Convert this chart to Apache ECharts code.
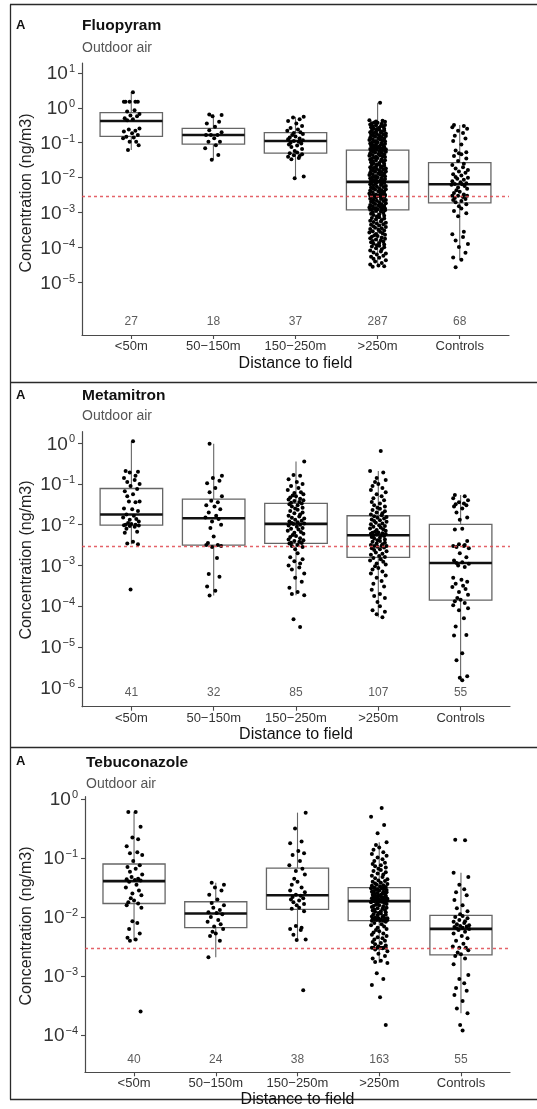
<!DOCTYPE html>
<html>
<head>
<meta charset="utf-8">
<script src="https://cdn.jsdelivr.net/npm/echarts@6/dist/echarts.min.js"></script>
<style>
  html, body { margin: 0; padding: 0; background: #fff; }
  #chart { width: 537px; height: 1109px; }
</style>
</head>
<body>
<div id="chart"></div>
<script>
// ---------------- data ----------------
// distance classes on the x axis
const categories = ['<50m', '50\u2212150m', '150\u2212250m', '>250m', 'Controls'];

// limit of detection (ng/m3), drawn as the dashed red reference line
const LOD = 0.003;

// y-axis tick exponents (labels read 10^n)
const fluopyramTicks = [-5, -4, -3, -2, -1, 0, 1];
const metamitronTicks = [-6, -5, -4, -3, -2, -1, 0];
const tebuconazoleTicks = [-4, -3, -2, -1, 0];

// sample counts per distance class
const fluopyramN = [27, 18, 37, 287, 68];
const metamitronN = [41, 32, 85, 107, 55];
const tebuconazoleN = [40, 24, 38, 163, 55];

// box statistics per class: [lower whisker, Q1, median, Q3, upper whisker], log10(ng/m3)
const fluopyramBoxes = [
  [-1.21, -0.82, -0.38, -0.14, 0.44],
  [-1.49, -1.04, -0.78, -0.59, -0.19],
  [-2.02, -1.30, -0.95, -0.71, -0.26],
  [-4.55, -2.92, -2.12, -1.21, 0.14],
  [-4.35, -2.72, -2.19, -1.57, -0.49]
];
const metamitronBoxes = [
  [-2.48, -2.01, -1.75, -1.11, 0.05],
  [-3.74, -2.50, -1.84, -1.37, -0.01],
  [-3.73, -2.46, -1.98, -1.475, -0.45],
  [-4.27, -2.80, -2.26, -1.78, -0.68],
  [-5.82, -3.85, -2.94, -1.99, -1.27]
];
const tebuconazoleBoxes = [
  [-2.40, -1.77, -1.39, -1.10, -0.22],
  [-2.68, -2.18, -1.94, -1.74, -1.42],
  [-2.39, -1.87, -1.63, -1.17, -0.23],
  [-2.78, -2.06, -1.73, -1.50, -0.73],
  [-3.63, -2.64, -2.20, -1.97, -1.25]
];

// individual measurements, log10(ng/m3)
const fluopyramLt50 = [0.44,0.17,0.17,0.17,0.17,0.17,-0.07,-0.11,-0.18,-0.22,-0.24,-0.30,-0.33,-0.36,-0.59,-0.62,-0.66,-0.68,-0.73,-0.78,-0.83,-0.85,-0.87,-0.97,-0.97,-1.07,-1.21];
const fluopyram50to150 = [-0.19,-0.21,-0.24,-0.40,-0.45,-0.54,-0.64,-0.70,-0.78,-0.78,-0.78,-0.87,-0.97,-0.97,-1.07,-1.16,-1.35,-1.49];
const fluopyram150to250 = [-0.26,-0.28,-0.33,-0.38,-0.45,-0.52,-0.58,-0.62,-0.66,-0.70,-0.72,-0.75,-0.78,-0.82,-0.85,-0.88,-0.90,-0.93,-0.95,-0.97,-1.00,-1.02,-1.05,-1.08,-1.12,-1.18,-1.24,-1.28,-1.30,-1.33,-1.36,-1.38,-1.40,-1.44,-1.47,-1.97,-2.02];
const fluopyramGt250 = [0.14,
  -0.36,-0.37,-0.39,-0.40,-0.42,-0.43,-0.44,-0.46,-0.48,-0.49,-0.50,-0.52,-0.53,-0.54,-0.56,-0.57,-0.59,-0.60,-0.61,-0.63,
  -0.64,-0.65,-0.67,-0.68,-0.70,-0.71,-0.72,-0.74,-0.75,-0.76,-0.78,-0.79,-0.80,-0.81,-0.83,-0.84,-0.86,-0.87,-0.88,-0.90,
  -0.91,-0.92,-0.94,-0.95,-0.96,-0.97,-0.99,-1.00,-1.01,-1.02,-1.03,-1.05,-1.06,-1.07,-1.08,-1.09,-1.10,-1.11,-1.12,-1.13,
  -1.14,-1.15,-1.16,-1.16,-1.17,-1.18,-1.18,-1.19,-1.19,-1.20,-1.21,
  -1.22,-1.24,-1.25,-1.26,-1.28,-1.29,-1.30,-1.32,-1.33,-1.35,-1.36,-1.37,-1.39,-1.40,-1.41,-1.43,-1.44,-1.45,-1.47,-1.48,
  -1.50,-1.51,-1.52,-1.54,-1.55,-1.56,-1.58,-1.59,-1.60,-1.62,-1.63,-1.64,-1.66,-1.67,-1.68,-1.70,-1.71,-1.72,-1.74,-1.75,
  -1.76,-1.78,-1.79,-1.80,-1.82,-1.83,-1.84,-1.86,-1.87,-1.88,-1.90,-1.91,-1.92,-1.94,-1.95,-1.96,-1.98,-1.99,-2.00,-2.01,
  -2.02,-2.04,-2.05,-2.06,-2.07,-2.08,-2.09,-2.10,-2.10,-2.11,-2.11,
  -2.12,
  -2.13,-2.15,-2.16,-2.18,-2.19,-2.21,-2.22,-2.24,-2.25,-2.27,-2.28,-2.30,-2.31,-2.33,-2.34,-2.36,-2.37,-2.39,-2.40,-2.42,
  -2.43,-2.45,-2.46,-2.48,-2.49,-2.50,
  -2.52,-2.52,-2.52,-2.52,-2.52,-2.52,-2.52,-2.52,-2.52,-2.52,-2.52,-2.52,-2.52,-2.52,-2.52,
  -2.54,-2.55,-2.57,-2.58,-2.60,-2.61,-2.63,-2.64,-2.66,-2.67,-2.69,-2.70,-2.72,-2.73,-2.75,-2.76,-2.78,-2.79,-2.81,-2.82,
  -2.84,-2.85,-2.86,-2.87,-2.88,-2.89,-2.90,-2.90,-2.91,-2.92,
  -2.93,-2.95,-2.97,-2.99,-3.01,-3.03,-3.05,-3.07,-3.09,-3.11,-3.13,-3.15,-3.17,-3.19,-3.21,-3.23,-3.25,-3.27,-3.29,-3.31,
  -3.33,-3.35,-3.37,-3.39,-3.41,-3.43,-3.45,-3.47,-3.49,-3.51,-3.53,-3.55,-3.57,-3.59,-3.61,-3.63,-3.65,-3.67,-3.69,-3.71,
  -3.73,-3.75,-3.77,-3.79,-3.81,-3.83,-3.85,-3.87,-3.89,-3.91,-3.93,-3.95,-3.97,-3.99,-4.02,-4.05,-4.08,-4.11,-4.14,-4.17,
  -4.20,-4.23,-4.26,-4.29,-4.32,-4.36,-4.40,-4.44,-4.48,-4.51,-4.53,-4.55];
const fluopyramControls = [-0.49,-0.52,-0.56,-0.60,-0.66,-0.72,-0.80,-0.88,-0.95,-1.05,-1.22,-1.27,-1.30,-1.33,-1.38,-1.45,-1.52,
  -1.60,-1.64,-1.70,-1.74,-1.78,-1.82,-1.86,-1.90,-1.94,-1.98,-2.00,-2.03,-2.06,-2.10,-2.13,-2.16,-2.18,
  -2.19,-2.20,
  -2.24,-2.28,-2.32,-2.36,-2.40,-2.44,-2.48,-2.52,-2.52,-2.52,-2.55,-2.58,-2.61,-2.64,-2.67,-2.70,
  -2.76,-2.82,-2.88,-2.95,-3.02,-3.10,-3.55,-3.62,-3.70,-3.80,-3.90,-3.98,-4.15,-4.28,-4.35,-4.56];

const metamitronLt50 = [0.05,-0.68,-0.70,-0.72,-0.80,-0.85,-0.90,-0.95,-1.00,-1.05,-1.12,-1.18,-1.25,-1.30,-1.43,-1.43,-1.45,-1.60,-1.62,-1.66,
  -1.75,-1.78,-1.82,-1.86,-1.88,-1.92,-1.96,-1.98,-2.00,-2.00,-2.01,-2.02,-2.03,-2.05,-2.10,-2.17,-2.20,-2.42,-2.46,-2.48,-3.59];
const metamitron50to150 = [-0.01,-0.80,-0.85,-0.92,-0.98,-1.10,-1.20,-1.30,-1.41,-1.45,-1.52,-1.55,-1.62,-1.70,-1.78,-1.82,
  -1.86,-1.92,-2.00,-2.08,-2.29,-2.45,-2.50,-2.50,-2.52,-2.55,-2.82,-3.21,-3.28,-3.52,-3.62,-3.74];
const metamitron150to250 = [-0.45,-0.78,-0.80,-0.88,-0.95,-1.00,-1.05,-1.10,-1.15,-1.20,-1.22,-1.25,-1.28,-1.30,-1.33,-1.36,-1.38,-1.40,-1.42,-1.44,-1.46,
  -1.48,-1.50,-1.52,-1.55,-1.58,-1.60,-1.63,-1.66,-1.70,-1.72,-1.75,-1.78,-1.80,-1.83,-1.85,-1.88,-1.90,-1.92,-1.94,-1.96,-1.97,
  -1.98,
  -2.00,-2.02,-2.05,-2.08,-2.10,-2.12,-2.15,-2.18,-2.20,-2.22,-2.25,-2.28,-2.30,-2.33,-2.36,-2.38,-2.40,-2.42,-2.44,-2.45,-2.46,
  -2.50,-2.52,-2.55,-2.60,-2.70,-2.80,-2.85,-2.90,-2.95,-3.00,-3.05,-3.10,-3.20,-3.30,-3.40,-3.55,-3.65,-3.70,-3.73,-4.32,-4.51];
const metamitronGt250 = [-0.19,-0.68,-0.72,-0.85,-0.90,-0.95,-1.00,-1.05,-1.10,-1.15,-1.20,-1.25,-1.30,-1.35,-1.40,-1.44,-1.48,-1.52,-1.55,-1.58,-1.61,-1.64,-1.67,-1.70,-1.72,-1.75,-1.77,
  -1.79,-1.81,-1.83,-1.85,-1.87,-1.89,-1.91,-1.93,-1.95,-1.97,-1.99,-2.01,-2.03,-2.05,-2.07,-2.09,-2.11,-2.13,-2.15,-2.17,-2.19,-2.20,-2.21,-2.22,-2.23,-2.24,-2.25,
  -2.26,
  -2.28,-2.30,-2.32,-2.34,-2.36,-2.38,-2.40,-2.42,-2.44,-2.46,-2.48,-2.50,-2.52,-2.52,-2.52,-2.54,-2.56,-2.58,-2.60,-2.62,-2.65,-2.68,-2.71,-2.74,-2.77,-2.79,
  -2.82,-2.85,-2.88,-2.91,-2.95,-2.98,-3.02,-3.06,-3.10,-3.15,-3.20,-3.25,-3.30,-3.38,-3.45,-3.52,-3.60,-3.70,-3.75,-3.80,-3.90,-4.00,-4.10,-4.14,-4.20,-4.27];
const metamitronControls = [-1.27,-1.30,-1.35,-1.40,-1.45,-1.48,-1.50,-1.52,-1.55,-1.60,-1.70,-1.82,-1.88,
  -2.10,-2.12,-2.40,-2.48,-2.50,-2.52,-2.52,-2.55,-2.58,-2.70,-2.80,-2.88,-2.92,
  -2.94,
  -2.96,-3.00,-3.04,-3.30,-3.35,-3.40,-3.45,-3.50,-3.53,-3.58,-3.65,-3.72,-3.80,-3.84,
  -3.88,-3.92,-3.98,-4.05,-4.10,-4.30,-4.50,-4.71,-4.72,-5.16,-5.33,-5.72,-5.76,-5.82];

const tebuconazoleLt50 = [-0.22,-0.22,-0.47,-0.65,-0.68,-0.80,-0.90,-0.92,-0.95,-1.05,
  -1.12,-1.15,-1.18,-1.23,-1.28,-1.32,-1.35,-1.36,-1.37,-1.38,
  -1.40,-1.45,-1.50,-1.55,-1.60,-1.63,-1.68,-1.72,-1.75,-1.77,
  -1.80,-1.84,-2.07,-2.10,-2.20,-2.28,-2.35,-2.38,-2.40,-3.60];
const tebuconazole50to150 = [-1.42,-1.45,-1.50,-1.55,-1.62,-1.70,-1.76,-1.80,-1.84,-1.88,-1.92,-1.93,
  -1.95,-2.00,-2.05,-2.08,-2.12,-2.16,-2.20,-2.25,-2.28,-2.32,-2.40,-2.68];
const tebuconazole150to250 = [-0.23,-0.50,-0.72,-0.75,-0.88,-0.92,-0.95,-1.05,-1.12,
  -1.18,-1.22,-1.28,-1.35,-1.40,-1.45,-1.50,-1.55,-1.58,-1.62,
  -1.64,-1.66,-1.68,-1.70,-1.72,-1.75,-1.78,-1.80,-1.84,-1.86,
  -1.90,-2.15,-2.18,-2.20,-2.22,-2.30,-2.38,-2.39,-3.24];
const tebuconazoleGt250 = [-0.15,-0.30,-0.44,-0.58,-0.73,-0.78,-0.82,-0.86,-0.90,-0.93,-0.96,-0.99,-1.02,-1.05,-1.08,-1.10,-1.12,-1.14,-1.16,-1.18,
  -1.20,-1.22,-1.24,-1.26,-1.28,-1.30,-1.32,-1.34,-1.36,-1.38,-1.39,-1.40,-1.42,-1.43,-1.44,-1.45,-1.46,-1.47,-1.48,-1.49,
  -1.50,-1.51,-1.51,-1.52,-1.53,-1.54,-1.54,-1.55,-1.56,-1.57,-1.57,-1.58,-1.59,-1.60,-1.60,-1.61,-1.62,-1.62,-1.63,-1.64,
  -1.64,-1.65,-1.66,-1.66,-1.67,-1.67,-1.68,-1.68,-1.69,-1.69,-1.70,-1.70,-1.71,-1.71,-1.72,-1.72,-1.72,-1.73,-1.73,-1.73,-1.73,
  -1.73,-1.74,-1.75,-1.76,-1.77,-1.78,-1.79,-1.80,-1.81,-1.82,-1.83,-1.84,-1.85,-1.86,-1.87,-1.88,-1.89,-1.90,-1.91,-1.92,
  -1.93,-1.94,-1.95,-1.96,-1.97,-1.98,-1.99,-2.00,-2.01,-2.02,-2.02,-2.03,-2.03,-2.04,-2.04,-2.05,-2.05,-2.06,-2.06,-2.06,
  -2.08,-2.10,-2.12,-2.14,-2.16,-2.18,-2.20,-2.22,-2.24,-2.26,-2.28,-2.30,-2.32,-2.34,-2.36,-2.38,-2.40,-2.42,-2.44,-2.46,
  -2.48,-2.50,-2.52,-2.52,-2.52,-2.52,-2.52,-2.52,-2.53,-2.55,-2.58,-2.62,-2.66,-2.70,-2.74,-2.76,-2.78,
  -2.95,-3.05,-3.15,-3.36,-3.83];
const tebuconazoleControls = [-0.69,-0.70,-1.25,-1.32,-1.45,-1.53,-1.58,-1.63,-1.71,-1.80,-1.85,-1.90,-1.95,
  -1.98,-2.00,-2.02,-2.05,-2.07,-2.08,-2.10,-2.12,-2.14,-2.15,-2.16,-2.17,-2.18,-2.19,
  -2.20,
  -2.22,-2.25,-2.28,-2.32,-2.36,-2.40,-2.45,-2.50,-2.52,-2.52,-2.56,-2.60,-2.63,
  -2.66,-2.70,-2.80,-2.98,-3.05,-3.12,-3.20,-3.25,-3.32,-3.42,-3.55,-3.63,-3.83,-3.92];

// ---------------- layout & style ----------------
const FONT = '"Liberation Sans", Arial, sans-serif';
const AXIS_COLOR = '#4a4a4a';
const TEXT_COLOR = '#333';
const BOX_STROKE = '#666';
const BOX_WIDTH = 0.76;          // in category units
// horizontal jitter pattern for the points (category units)
const JITTER = [0.02,-0.07,0.08,-0.02,0.05,-0.09,0.04,-0.05,0.10,-0.01,0.07,-0.08,0.02,-0.05,0.10,-0.03,0.05,-0.09,0.01,0.08,
  -0.06,0.03,-0.10,0.06,-0.02,0.09,-0.04,0.00,-0.07,0.05,-0.09,0.09,-0.02,0.04,-0.06,0.07,-0.08,0.02,-0.05,0.08,-0.01];

const panels = [
  { title: 'Fluopyram', ticks: fluopyramTicks, n: fluopyramN, boxes: fluopyramBoxes,
    groups: [fluopyramLt50, fluopyram50to150, fluopyram150to250, fluopyramGt250, fluopyramControls],
    grid: { left: 82, top: 63, width: 427, height: 272 }, yMin: -6.5, yMax: 1.28, nAt: -6.13,
    frameTop: 4.5, letterY: 25, titleX: 82, titleY: 26, subY: 48, yTitleY: 193, xTitleY: 363.5 },
  { title: 'Metamitron', ticks: metamitronTicks, n: metamitronN, boxes: metamitronBoxes,
    groups: [metamitronLt50, metamitron50to150, metamitron150to250, metamitronGt250, metamitronControls],
    grid: { left: 82, top: 431.7, width: 428, height: 275 }, yMin: -6.47, yMax: 0.285, nAt: -6.13,
    frameTop: 382.5, letterY: 395, titleX: 82, titleY: 396, subY: 416.5, yTitleY: 560, xTitleY: 735 },
  { title: 'Tebuconazole', ticks: tebuconazoleTicks, n: tebuconazoleN, boxes: tebuconazoleBoxes,
    groups: [tebuconazoleLt50, tebuconazole50to150, tebuconazole150to250, tebuconazoleGt250, tebuconazoleControls],
    grid: { left: 85, top: 796.7, width: 425, height: 275.6 }, yMin: -4.63, yMax: 0.04, nAt: -4.41,
    frameTop: 747.5, letterY: 761.5, titleX: 86, titleY: 763, subY: 784, yTitleY: 926, xTitleY: 1099.5 }
];
const FRAME_BOTTOM = 1099.5;

function renderBox(params, api) {
  const x = api.value(0);
  const lo = api.coord([x, api.value(1)]);
  const q1 = api.coord([x, api.value(2)]);
  const med = api.coord([x, api.value(3)]);
  const q3 = api.coord([x, api.value(4)]);
  const hi = api.coord([x, api.value(5)]);
  const half = api.size([BOX_WIDTH, 0])[0] / 2;
  const cx = med[0];
  const whisker = { stroke: BOX_STROKE, lineWidth: 1.1 };
  return {
    type: 'group',
    children: [
      { type: 'line', shape: { x1: cx, y1: q1[1], x2: cx, y2: lo[1] }, style: whisker },
      { type: 'line', shape: { x1: cx, y1: q3[1], x2: cx, y2: hi[1] }, style: whisker },
      { type: 'rect', shape: { x: cx - half, y: q3[1], width: half * 2, height: q1[1] - q3[1] },
        style: { fill: '#fff', stroke: BOX_STROKE, lineWidth: 1.3 } },
      { type: 'line', shape: { x1: cx - half, y1: med[1], x2: cx + half, y2: med[1] },
        style: { stroke: '#111', lineWidth: 2.6 } }
    ]
  };
}

function expLabel(v) {
  const e = Math.round(v);
  return '{b|10}{s|' + (e < 0 ? '\u2212' + (-e) : String(e)) + '}';
}

const grids = [], xAxes = [], yAxes = [], series = [], graphics = [];

panels.forEach((p, i) => {
  grids.push(p.grid);
  xAxes.push({
    gridIndex: i, type: 'value', min: -0.6, max: 4.6,
    axisLine: { show: true, onZero: false, lineStyle: { color: AXIS_COLOR, width: 1.2 } },
    axisTick: { show: true, length: 4, customValues: [0, 1, 2, 3, 4], lineStyle: { color: AXIS_COLOR, width: 1.1 } },
    axisLabel: { customValues: [0, 1, 2, 3, 4], formatter: v => categories[Math.round(v)],
      color: TEXT_COLOR, fontSize: 13, fontFamily: FONT, margin: 5 },
    splitLine: { show: false }
  });
  yAxes.push({
    gridIndex: i, type: 'value', min: p.yMin, max: p.yMax,
    axisLine: { show: true, onZero: false, lineStyle: { color: AXIS_COLOR, width: 1.2 } },
    axisTick: { show: true, length: 4, customValues: p.ticks, lineStyle: { color: AXIS_COLOR, width: 1.1 } },
    axisLabel: { customValues: p.ticks, formatter: expLabel, margin: 7,
      rich: {
        b: { fontSize: 19, fontFamily: FONT, color: TEXT_COLOR, lineHeight: 19, padding: [5, 0, 3, 0] },
        s: { fontSize: 11, fontFamily: FONT, color: TEXT_COLOR, lineHeight: 12, padding: [0, 0, 0, 1], verticalAlign: 'top' }
      } },
    splitLine: { show: false }
  });

  // boxes + LOD reference line
  series.push({
    type: 'custom', xAxisIndex: i, yAxisIndex: i, z: 2,
    renderItem: renderBox,
    encode: { x: 0, y: [1, 2, 3, 4, 5] },
    data: p.boxes.map((b, k) => [k].concat(b)),
    markLine: {
      silent: true, symbol: ['none', 'none'], label: { show: false },
      lineStyle: { color: '#e0484f', type: [3, 3], width: 1.4, opacity: 0.85 },
      data: [{ yAxis: Math.log10(LOD) }]
    }
  });

  // jittered measurements
  const pts = [];
  p.groups.forEach((vals, k) => {
    vals.forEach((v, j) => pts.push([k + JITTER[(j + 7 * k) % JITTER.length], v]));
  });
  series.push({
    type: 'scatter', xAxisIndex: i, yAxisIndex: i, z: 4,
    symbolSize: 4, itemStyle: { color: '#000', opacity: 1 },
    data: pts
  });

  // sample counts
  series.push({
    type: 'scatter', xAxisIndex: i, yAxisIndex: i, z: 4, symbolSize: 0, silent: true,
    data: p.n.map((c, k) => [k, p.nAt, c]),
    label: { show: true, position: 'inside', formatter: d => String(d.value[2]),
      color: TEXT_COLOR, fontSize: 12, fontFamily: FONT }
  });

  // panel texts
  const g = p.grid;
  graphics.push(
    { type: 'text', x: 16, y: p.letterY, style: { text: 'A', font: 'bold 13px ' + FONT, fill: '#111', align: 'left', verticalAlign: 'middle' } },
    { type: 'text', x: p.titleX, y: p.titleY, style: { text: p.title, font: 'bold 15.5px ' + FONT, fill: '#111', align: 'left', verticalAlign: 'middle' } },
    { type: 'text', x: p.titleX, y: p.subY, style: { text: 'Outdoor air', font: '14px ' + FONT, fill: '#555', align: 'left', verticalAlign: 'middle' } },
    { type: 'text', x: 27, y: p.yTitleY, rotation: Math.PI / 2,
      style: { text: 'Concentration (ng/m3)', font: '16px ' + FONT, fill: '#222', align: 'center', verticalAlign: 'middle' } },
    { type: 'text', x: g.left + g.width / 2, y: p.xTitleY,
      style: { text: 'Distance to field', font: '16px ' + FONT, fill: '#111', align: 'center', verticalAlign: 'middle' } },
    { type: 'line', shape: { x1: 10, y1: p.frameTop, x2: 537, y2: p.frameTop }, style: { stroke: '#2a2a2a', lineWidth: 1.3 } }
  );
});

graphics.push(
  { type: 'line', shape: { x1: 10.5, y1: 4.5, x2: 10.5, y2: FRAME_BOTTOM }, style: { stroke: '#2a2a2a', lineWidth: 1.3 } },
  { type: 'line', shape: { x1: 10, y1: FRAME_BOTTOM, x2: 537, y2: FRAME_BOTTOM }, style: { stroke: '#2a2a2a', lineWidth: 1.3 }, z: -1 }
);

const chart = echarts.init(document.getElementById('chart'), null, { renderer: 'canvas' });
chart.setOption({
  animation: false,
  backgroundColor: '#fff',
  grid: grids,
  xAxis: xAxes,
  yAxis: yAxes,
  series: series,
  graphic: { elements: graphics }
});
</script>
</body>
</html>
